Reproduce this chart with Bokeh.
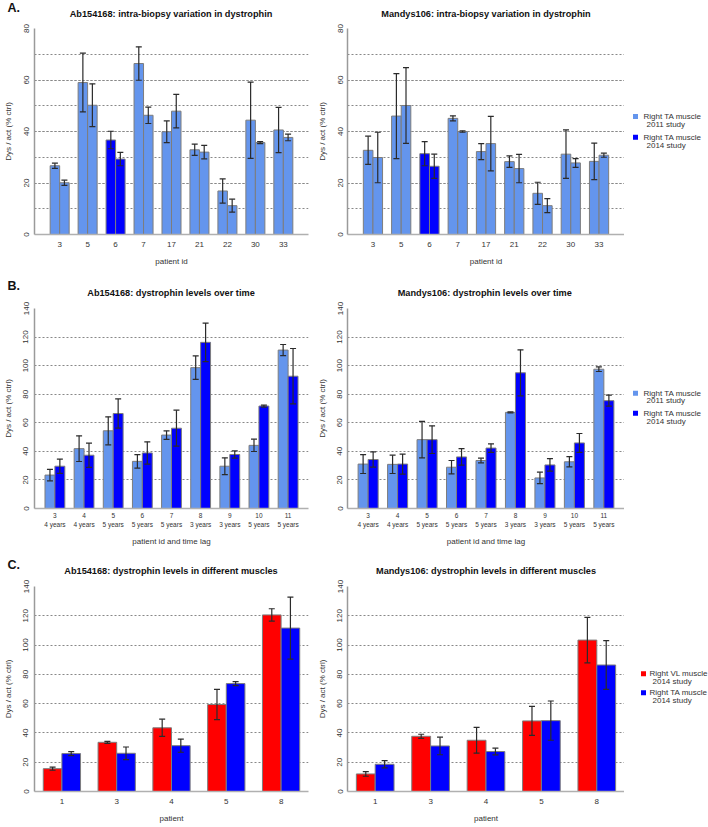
from bokeh.plotting import figure
from bokeh.models import (FactorRange, Range1d, ColumnDataSource, SingleIntervalTicker,
                          LinearAxis, FixedTicker)
from bokeh.transform import dodge
from bokeh.layouts import row, column
from bokeh.embed import file_html
from bokeh.resources import INLINE
from bokeh.core.properties import value

FONT = "Liberation Sans"
LIGHT = "#6495ED"
DARK = "#0000FF"
RED = "#FF0000"
BLUE = "#0000FF"

# ---------------- Data ----------------
# A. intra-biopsy variation (two pieces of the same biopsy)
pid_a = ["3", "5", "6", "7", "17", "21", "22", "30", "33"]
study_a = ["2011", "2011", "2014", "2011", "2011", "2011", "2011", "2011", "2011"]
ab_a1 = [26.7, 59.0, 36.7, 66.4, 39.9, 32.9, 16.9, 44.4, 40.6]
ab_a1_err = [1.0, 11.4, 3.4, 6.5, 4.2, 2.2, 4.7, 14.8, 8.8]
ab_a2 = [20.1, 50.2, 29.3, 46.3, 47.9, 32.0, 11.2, 35.7, 37.7]
ab_a2_err = [1.0, 8.3, 2.6, 3.2, 6.5, 2.6, 2.5, 0.4, 1.3]
md_a1 = [32.7, 46.0, 31.4, 45.1, 32.2, 28.3, 16.0, 31.2, 28.4]
md_a1_err = [5.5, 16.5, 4.7, 1.0, 3.1, 2.2, 4.3, 9.4, 7.1]
md_a2 = [29.9, 50.1, 26.5, 40.0, 35.3, 25.6, 11.2, 27.8, 30.8]
md_a2_err = [9.8, 14.7, 4.7, 0.3, 10.6, 5.5, 2.7, 1.7, 0.8]

# B. levels over time
pid_b = ["3", "4", "5", "6", "7", "8", "9", "10", "11"]
lag_b = ["4 years", "4 years", "5 years", "5 years", "5 years", "3 years", "3 years", "5 years", "5 years"]
ab_b11 = [23.4, 41.9, 54.4, 33.0, 51.4, 98.6, 29.6, 44.2, 110.9]
ab_b11_err = [4.0, 9.0, 9.8, 4.7, 3.0, 8.2, 5.9, 4.3, 3.9]
ab_b14 = [29.6, 37.3, 66.5, 38.9, 56.2, 116.3, 37.8, 71.7, 92.6]
ab_b14_err = [5.0, 8.5, 10.2, 7.8, 12.6, 13.5, 2.5, 0.7, 19.4]
md_b11 = [31.1, 30.9, 48.2, 28.9, 33.6, 67.3, 21.4, 32.7, 97.5]
md_b11_err = [6.6, 6.4, 12.8, 4.7, 1.6, 0.3, 4.0, 3.6, 1.6]
md_b14 = [34.3, 31.1, 48.2, 36.1, 42.3, 95.0, 30.5, 45.9, 75.5]
md_b14_err = [5.3, 7.0, 9.7, 5.8, 3.0, 16.1, 4.4, 6.6, 3.9]

# C. different muscles
pid_c = ["1", "3", "4", "5", "8"]
ab_vl = [15.6, 33.6, 43.5, 59.4, 120.6]
ab_vl_err = [1.1, 0.7, 5.9, 10.3, 4.2]
ab_ta = [25.9, 26.1, 31.3, 73.7, 111.6]
ab_ta_err = [1.4, 4.3, 4.5, 1.4, 21.2]
md_vl = [12.0, 37.7, 35.0, 48.2, 103.4]
md_vl_err = [1.6, 1.4, 8.8, 9.9, 15.5]
md_ta = [18.6, 31.1, 27.3, 48.4, 86.4]
md_ta_err = [2.5, 6.0, 2.3, 13.4, 16.6]

titles_a = ["Ab154168: intra-biopsy variation in dystrophin", "Mandys106: intra-biopsy variation in dystrophin"]
titles_b = ["Ab154168: dystrophin levels over time", "Mandys106:  dystrophin levels over time"]
titles_c = ["Ab154168: dystrophin levels in different muscles", "Mandys106: dystrophin levels in different muscles"]
legend_ab = [("Right TA muscle", "2011 study"), ("Right TA muscle", "2014 study")]
legend_c = [("Right VL muscle", "2014 study"), ("Right TA muscle", "2014 study")]

# --------------- Layout sizes ---------------
TOTAL_W = 708
# panel rows: (height, border_top, frame_height, border_bottom)
ROWS = {"A": (248, 8, 206, 34), "B": (248, 8, 205, 35), "C": (249, 8, 205, 36)}
# header strips: (height, letter_y, title_y)
STRIPS = {"A": (20, 7, 13), "B": (32, 17, 24), "C": (30, 16, 22)}
COLS = {True: (313, 33, 275, 5), False: (311, 34, 277, 0)}
TITLE_X = [33 + 275 / 2, 313 + 34 + 277 / 2]
GW = 84


def style_label_axis(ax, size, standoff):
    ax.major_tick_line_color = None
    ax.minor_tick_line_color = None
    ax.major_tick_out = 0
    ax.major_tick_in = 0
    ax.minor_tick_out = 0
    ax.minor_tick_in = 0
    ax.major_label_text_font = FONT
    ax.major_label_text_color = "#333333"
    ax.major_label_text_font_size = size
    ax.major_label_standoff = standoff


def set_axis_label(ax, text, standoff):
    ax.axis_label = text
    ax.axis_label_text_font = FONT
    ax.axis_label_text_font_size = "8px"
    ax.axis_label_text_font_style = "normal"
    ax.axis_label_text_color = "#333333"
    ax.axis_label_standoff = standoff


def blank_fig(width, height):
    p = figure(width=width, height=height, x_range=Range1d(0, width), y_range=Range1d(height, 0),
               output_backend="svg", toolbar_location=None, tools="",
               min_border_left=0, min_border_right=0, min_border_top=0, min_border_bottom=0,
               outline_line_color=None)
    p.axis.visible = False
    p.grid.visible = False
    return p


def strip(key, letter, titles):
    h, ly, ty = STRIPS[key]
    p = blank_fig(TOTAL_W, h)
    p.text(x=[7], y=[ly], text=[letter], text_baseline="middle", text_align="left",
           text_font=value(FONT), text_font_size="12.5px", text_font_style="bold",
           text_color="#111111")
    p.text(x=TITLE_X, y=[ty, ty], text=titles, text_baseline="middle", text_align="center",
           text_font=value(FONT), text_font_size="9.2px", text_font_style="bold",
           text_color="#111111")
    return p


def panel(factors, series, y_end, interval, minor, xlabel, left, rowkey, pad=0.4, lags=None):
    height, bt, fh, bb = ROWS[rowkey]
    width, bl, fw, br = COLS[left]
    n = len(factors)
    if lags is None:
        xr = FactorRange(factors=factors, range_padding=pad, range_padding_units="absolute")
        xkeys = factors
    else:
        xr = Range1d(-pad / 2, n + pad / 2)
        xkeys = [i + 0.5 for i in range(n)]
    p = figure(width=width, height=height, x_range=xr,
               y_range=Range1d(0, y_end), output_backend="svg", toolbar_location=None, tools="",
               min_border_left=bl, min_border_right=br, min_border_top=bt, min_border_bottom=bb,
               outline_line_color=None, background_fill_color="white", border_fill_color="white")

    for vals, errs, off, cols in series:
        src = ColumnDataSource(dict(x=xkeys, top=vals,
                                    up=[v + e for v, e in zip(vals, errs)],
                                    lo=[v - e for v, e in zip(vals, errs)],
                                    color=cols))
        xs = dodge("x", off, range=p.x_range)
        p.vbar(x=xs, top="top", bottom=0, width=0.34, source=src, fill_color="color",
               line_color="#7d7d7d", line_width=1)
        p.segment(x0=xs, y0="lo", x1=xs, y1="up", source=src, line_color="#2b2b2b", line_width=1.2)
        for yk in ("up", "lo"):
            p.scatter(x=xs, y=yk, marker="dash", size=6, source=src, line_color="#2b2b2b",
                      line_width=1.2)

    ticker = SingleIntervalTicker(interval=interval, num_minor_ticks=minor)
    yax = p.yaxis[0]
    yax.ticker = ticker
    yax.major_label_orientation = "vertical"
    style_label_axis(yax, "8px", 6 if left else 5)
    yax.axis_line_color = "#9a9a9a"
    yax.axis_line_width = 1.5
    set_axis_label(yax, "Dys / act (% ctrl)", 8)

    p.ygrid.ticker = ticker
    p.ygrid.grid_line_color = "#888888"
    p.ygrid.grid_line_dash = "2 2"
    if minor:
        p.ygrid.minor_grid_line_color = "#888888"
        p.ygrid.minor_grid_line_dash = "2 2"
    p.xgrid.grid_line_color = None

    xax = p.xaxis[0]
    xax.axis_line_color = "#b0b0b0"
    xax.axis_line_width = 1.5
    if lags is None:
        style_label_axis(xax, "8px", 7)
        set_axis_label(xax, xlabel, 7)
    else:
        style_label_axis(xax, "6.5px", 4)
        xax.ticker = FixedTicker(ticks=xkeys, minor_ticks=[])
        xax.major_label_overrides = {c: f for c, f in zip(xkeys, factors)}
        xax.axis_label_standoff = 0
        ax2 = LinearAxis(ticker=FixedTicker(ticks=xkeys, minor_ticks=[]),
                         major_label_overrides={c: l for c, l in zip(xkeys, lags)},
                         axis_line_color=None)
        style_label_axis(ax2, "6.5px", 0)
        set_axis_label(ax2, xlabel, 6)
        p.add_layout(ax2, "below")
    return p


def legend_fig(rowkey, items, colors, ys, mx, tx):
    p = blank_fig(GW, ROWS[rowkey][0])
    for (l1, l2), c, y in zip(items, colors, ys):
        p.scatter(x=[mx], y=[y], marker="square", size=5, fill_color=c, line_color=None)
        p.text(x=[tx], y=[y], text=[l1], text_baseline="middle", text_font=value(FONT),
               text_font_size="8px", text_color="#333333")
        p.text(x=[tx + 3], y=[y + 9.5], text=[l2], text_baseline="middle", text_font=value(FONT),
               text_font_size="8px", text_color="#333333")
    return p


col_a = [DARK if s == "2014" else LIGHT for s in study_a]
nb = len(pid_b)
nc = len(pid_c)
W = 0.17

sA = strip("A", "A.", titles_a)
pA1 = panel(pid_a, [(ab_a1, ab_a1_err, -W, col_a), (ab_a2, ab_a2_err, W, col_a)],
            80, 20, 2, "patient id", True, "A")
pA2 = panel(pid_a, [(md_a1, md_a1_err, -W, col_a), (md_a2, md_a2_err, W, col_a)],
            80, 20, 2, "patient id", False, "A")
lA = legend_fig("A", legend_ab, [LIGHT, DARK], [106, 131], 11, 19)

sB = strip("B", "B.", titles_b)
pB1 = panel(pid_b, [(ab_b11, ab_b11_err, -W, [LIGHT] * nb), (ab_b14, ab_b14_err, W, [DARK] * nb)],
            140, 20, 0, "patient id and time lag", True, "B", lags=lag_b)
pB2 = panel(pid_b, [(md_b11, md_b11_err, -W, [LIGHT] * nb), (md_b14, md_b14_err, W, [DARK] * nb)],
            140, 20, 0, "patient id and time lag", False, "B", lags=lag_b)
lB = legend_fig("B", legend_ab, [LIGHT, DARK], [105, 130], 11, 19)

sC = strip("C", "C.", titles_c)
pC1 = panel(pid_c, [(ab_vl, ab_vl_err, -W, [RED] * nc), (ab_ta, ab_ta_err, W, [BLUE] * nc)],
            140, 20, 0, "patient", True, "C", pad=0.0)
pC2 = panel(pid_c, [(md_vl, md_vl_err, -W, [RED] * nc), (md_ta, md_ta_err, W, [BLUE] * nc)],
            140, 20, 0, "patient", False, "C", pad=0.0)
lC = legend_fig("C", legend_c, [RED, BLUE], [106, 129], 19, 25)

layout = column(sA, row(pA1, pA2, lA), sB, row(pB1, pB2, lB), sC, row(pC1, pC2, lC))

open("out.html", "w").write(file_html(layout, INLINE))
